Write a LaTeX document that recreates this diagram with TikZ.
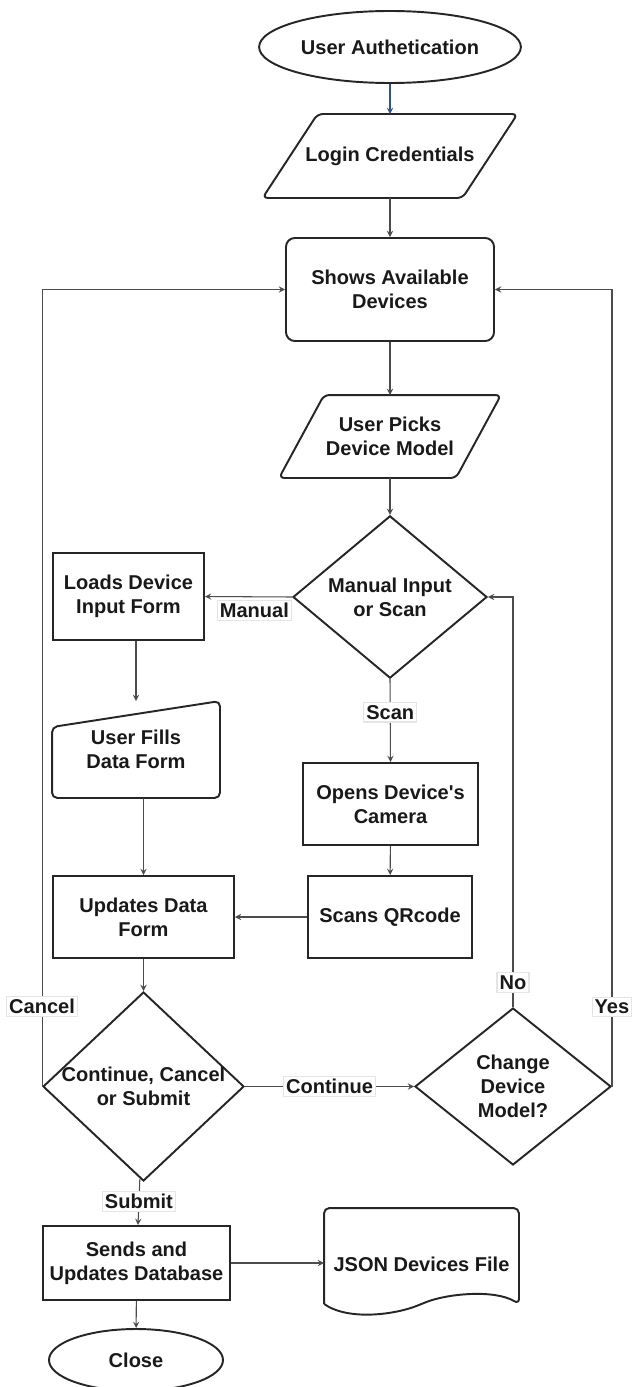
\documentclass[tikz,border=0pt]{standalone}
\usepackage{fontspec}
\setmainfont{Liberation Sans}
\usepackage{xcolor}
\usepackage{tikz}
\usetikzlibrary{shapes,arrows,positioning,calc}

\definecolor{linkblue}{HTML}{2E548A}

\begin{document}
\begin{tikzpicture}[
  outline/.style={draw=black!85, line width=1.1pt},
  base/.style={outline, align=center, text=black!90, inner sep=2pt,
               font=\fontsize{11.4}{13.7}\selectfont\bfseries},
  terminal/.style={base, ellipse, minimum width=3.92cm, minimum height=1.44cm},
  process/.style={base, rectangle, minimum height=1.64cm},
  iobox/.style={process, draw=none},
  decision/.style={base, diamond, inner sep=0pt},
  line/.style={draw=black!70, line width=0.6pt},
  lbl/.style={font=\fontsize{11.4}{13.7}\selectfont\bfseries, text=black!90,
              fill=white, draw=black!10, inner sep=1.5pt},
  >=stealth
]
\useasboundingbox (0,0) rectangle (12.64,-27.74);

\node[terminal] (auth) at (7.80,-0.94) {User Authetication};
\node[iobox, minimum width=5.06cm] (login) at (7.80,-3.12) {Login Credentials};
\node[process, rounded corners=5pt, minimum width=4.16cm, minimum height=2.06cm] (shows) at (7.80,-5.79) {Shows Available\\Devices};
\node[iobox, minimum width=4.4cm, minimum height=1.62cm] (picks) at (7.80,-8.73) {User Picks\\Device Model};
\node[decision, minimum width=3.88cm, minimum height=3.2cm] (choice) at (7.80,-11.94) {Manual Input\\or Scan};

\node[process, minimum width=3.02cm, minimum height=1.74cm] (loads) at (2.57,-11.93) {Loads Device\\Input Form};
\node[iobox, minimum width=3.32cm, minimum height=1.9cm] (fills) at (2.72,-14.99) {User Fills\\Data Form};
\node[process, minimum width=3.62cm] (updates) at (2.87,-18.34) {Updates Data\\Form};

\node[process, minimum width=3.5cm] (camera) at (7.81,-16.08) {Opens Device\textquotesingle s\\Camera};
\node[process, minimum width=3.28cm] (qr) at (7.80,-18.34) {Scans QRcode};

\node[decision, minimum width=4.02cm, minimum height=3.78cm] (action) at (2.87,-21.73)
  {\makebox[0pt]{Continue, Cancel}\\\makebox[0pt]{or Submit}};
\node[decision, minimum width=3.92cm, minimum height=3.14cm] (change) at (10.26,-21.73) {Change\\Device\\Model?};

\node[process, minimum width=3.74cm, minimum height=1.48cm] (sends) at (2.73,-25.26) {Sends and\\Updates Database};
\node[terminal, minimum width=3.48cm, minimum height=1.24cm] (close) at (2.72,-27.2) {Close};
\node[iobox, minimum width=3.86cm, minimum height=1.88cm,
      text height=0.7cm, text depth=0.1cm] (json) at (8.43,-25.12) {JSON Devices File};

% parallelograms, manual input and document outlines
\draw[outline, rounded corners=3pt] (login.south west) -- ($(login.north west)+(1.1,0)$)
  -- (login.north east) -- ($(login.south east)+(-1.1,0)$) -- cycle;
\draw[outline, rounded corners=3pt] (picks.south west) -- ($(picks.north west)+(0.9,0)$)
  -- (picks.north east) -- ($(picks.south east)+(-0.9,0)$) -- cycle;
\draw[outline, rounded corners=3pt] (fills.south west) -- ($(fills.north west)+(0,-0.52)$)
  -- (fills.north east) -- (fills.south east) -- cycle;
\draw[outline, rounded corners=3pt] (json.south west) -- (json.north west) -- (json.north east)
  -- (json.south east)
  .. controls ($(json.south east)+(-0.5,0.3)$) and ($(json.south)+(0.5,0.2)$) .. (json.south)
  .. controls ($(json.south)+(-0.5,-0.2)$) and ($(json.south west)+(0.5,-0.35)$) .. (json.south west);

\draw[->, line, draw=linkblue] (auth) -- (login);
\draw[->, line] (login) -- (shows);
\draw[->, line] (shows) -- (picks);
\draw[->, line] (picks) -- (choice);
\draw[->, line] (choice.west) -- (loads.east) node[lbl, pos=0, anchor=north east, yshift=-0.06cm] {Manual};
\draw[->, line] (choice.south) -- node[lbl, pos=0.4] {Scan} (camera.north);
\draw[->, line] (camera) -- (qr);
\draw[->, line] (qr) -- (updates);
\draw[->, line] (loads.south -| fills.north) -- (fills.north);
\draw[->, line] (updates.north |- fills.south) -- (updates.north);
\draw[->, line] (updates) -- (action);
\draw[->, line] (action.west) -- node[lbl, pos=0.1] {Cancel} (action.west |- shows.west) -- (shows.west);
\draw[->, line] (action.east) -- node[lbl] {Continue} (change.west);
\draw[->, line] (change.north) -- node[lbl, pos=0.06] {No} (change.north |- choice.east) -- (choice.east);
\draw[->, line] (change.east) -- node[lbl, pos=0.1] {Yes} (change.east |- shows.east) -- (shows.east);
\draw[->, line] (action) -- node[lbl] {Submit} (sends);
\draw[->, line] (sends) -- (close);
\draw[->, line] (sends.east) -- (sends.east -| json.west);
\end{tikzpicture}
\end{document}
